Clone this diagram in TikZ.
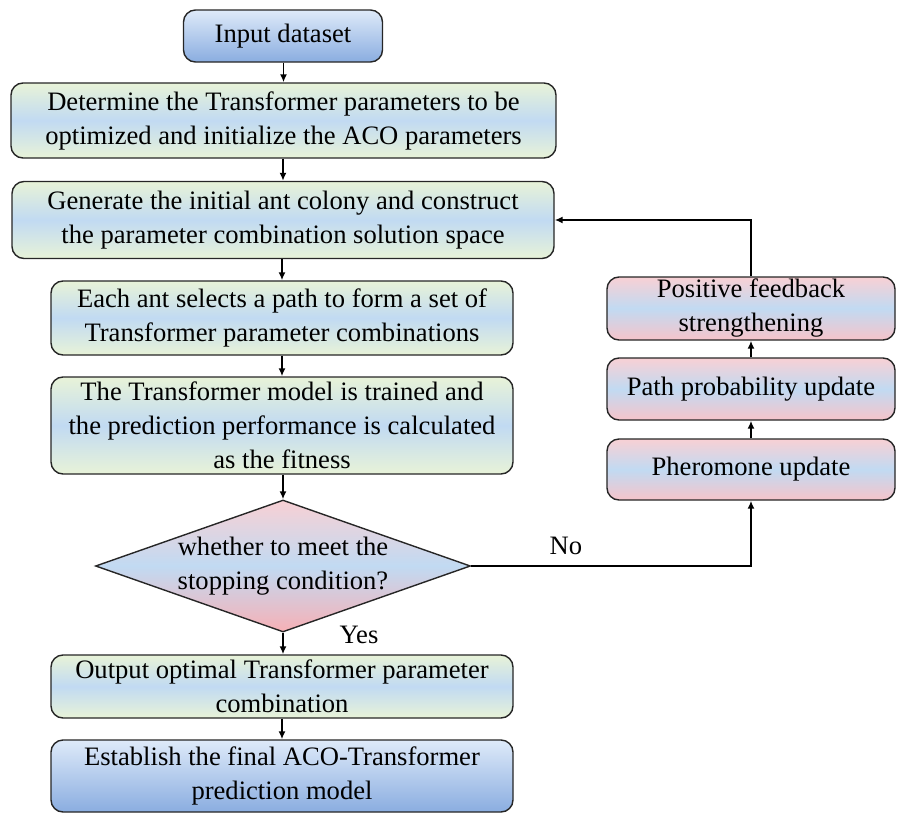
\documentclass[tikz,border=0pt]{standalone}
\usepackage{fontspec}
\setmainfont{Liberation Serif}
\usetikzlibrary{shapes.geometric,arrows.meta}
\definecolor{gtop}{RGB}{232,243,216}
\definecolor{gmid}{RGB}{193,218,242}
\definecolor{ptop}{RGB}{248,208,212}
\definecolor{pmid}{RGB}{193,218,242}
\definecolor{pbot}{RGB}{246,196,202}
\definecolor{btop}{RGB}{222,234,249}
\definecolor{bbot}{RGB}{138,173,224}
\tikzset{
  base/.style={draw=black!85, line width=1.4pt, rounded corners=12pt, align=center,
    inner sep=0pt, font=\fontsize{26.6}{34}\selectfont},
  greenbox/.style={base, top color=gtop, bottom color=gtop, middle color=gmid},
  pinkbox/.style={base, top color=ptop, bottom color=pbot, middle color=pmid},
  bluebox/.style={base, top color=btop, bottom color=bbot},
  decision/.style={diamond, draw=black!85, line width=1.4pt, inner sep=0pt,
    top color=ptop, bottom color=pbot!90!red, middle color=pmid},
  txt/.style={align=center, font=\fontsize{26.6}{34}\selectfont},
  conn/.style={line width=1.6pt, -{Latex[length=8pt,width=7pt]}}
}
\begin{document}
\begin{tikzpicture}[x=1pt,y=-1pt]
\useasboundingbox (0,0) rectangle (898,817);
\node[bluebox, minimum width=199pt, minimum height=52pt] (in) at (283,36) {Input dataset};
\node[greenbox, minimum width=545pt, minimum height=75pt] (b2) at (283.5,120.5)
  {Determine the Transformer parameters to be\\optimized and initialize the ACO parameters};
\node[greenbox, minimum width=542pt, minimum height=77pt] (b3) at (283,220)
  {Generate the initial ant colony and construct\\the parameter combination solution space};
\node[greenbox, minimum width=462pt, minimum height=74pt] (b4) at (282,318)
  {Each ant selects a path to form a set of\\Transformer parameter combinations};
\node[greenbox, minimum width=462pt, minimum height=97pt] (b5) at (282,425.5)
  {The Transformer model is trained and\\the prediction performance is calculated\\as the fitness};
\node[decision, minimum width=375pt, minimum height=132pt] (dia) at (283,566) {};
\node[txt] (diat) at (dia.center) {whether to meet the\\stopping condition?};
\node[greenbox, minimum width=462pt, minimum height=63pt] (b6) at (282,686.5)
  {Output optimal Transformer parameter\\combination};
\node[bluebox, minimum width=462pt, minimum height=72pt] (b7) at (282,776)
  {Establish the final ACO-Transformer\\prediction model};
\node[pinkbox, minimum width=288pt, minimum height=63pt] (p1) at (751,308.5)
  {Positive feedback\\strengthening};
\node[pinkbox, minimum width=288pt, minimum height=62pt] (p2) at (751,389)
  {Path probability update};
\node[pinkbox, minimum width=288pt, minimum height=61pt] (p3) at (751,469.5)
  {Pheromone update};
\coordinate (corner) at (p3.south |- dia.east);
\draw[conn] (in.south -| b2.north) -- (b2.north);
\draw[conn] (b2.south -| b3.north) -- (b3.north);
\draw[conn] (b3.south -| b4.north) -- (b4.north);
\draw[conn] (b4) -- (b5);
\draw[conn] (b5.south -| dia.north) -- (dia.north);
\draw[conn] (dia.south) -- (dia.south |- b6.north);
\node[txt] (yes) at (359,635) {Yes};
\draw[conn] (b6.south -| b7.north) -- (b7.north);
\draw[conn] (dia.east) -- (corner) -- (p3.south);
\node[txt] (no) at (566,546) {No};
\draw[conn] (p3) -- (p2);
\draw[conn] (p2) -- (p1);
\draw[conn] (p1.north) |- (b3.east);
\end{tikzpicture}
\end{document}
